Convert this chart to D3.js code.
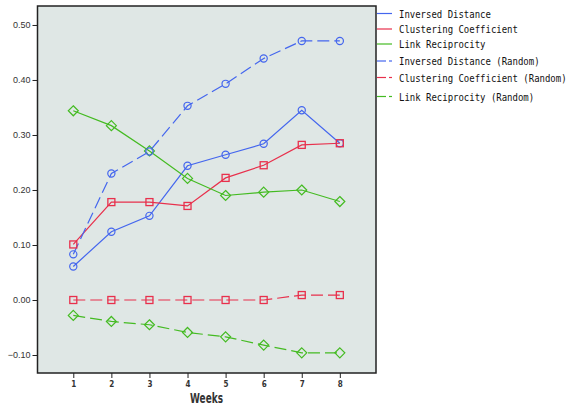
<!DOCTYPE html>
<html><head><meta charset="utf-8">
<script src="https://cdn.jsdelivr.net/npm/d3@7"></script>
<style>body{margin:0;background:#fff}svg{display:block}</style>
</head><body>
<script>
const weeks = [1,2,3,4,5,6,7,8];
const yTicks = [-0.10,0.00,0.10,0.20,0.30,0.40,0.50];
const seriesNames = ["Inversed Distance","Clustering Coefficient","Link Reciprocity","Inversed Distance (Random)","Clustering Coefficient (Random)","Link Reciprocity (Random)"];
const inversedDistance = [0.061,0.124,0.153,0.244,0.264,0.284,0.345,0.285];
const clusteringCoefficient = [0.101,0.178,0.178,0.171,0.222,0.245,0.282,0.285];
const linkReciprocity = [0.344,0.317,0.271,0.221,0.190,0.196,0.200,0.179];
const inversedDistanceRandom = [0.083,0.230,0.270,0.353,0.393,0.439,0.471,0.471];
const clusteringCoefficientRandom = [0,0,0,0,0,0,0.009,0.009];
const linkReciprocityRandom = [-0.028,-0.039,-0.045,-0.059,-0.067,-0.082,-0.096,-0.096];

const blue="#4466ee", red="#e8304c", green="#44bb22";
const series = [
 {name:seriesNames[0], v:inversedDistance, c:blue, m:"circle", dash:null},
 {name:seriesNames[1], v:clusteringCoefficient, c:red, m:"square", dash:null},
 {name:seriesNames[2], v:linkReciprocity, c:green, m:"diamond", dash:null},
 {name:seriesNames[3], v:inversedDistanceRandom, c:blue, m:"circle", dash:"12,5"},
 {name:seriesNames[4], v:clusteringCoefficientRandom, c:red, m:"square", dash:"12,5"},
 {name:seriesNames[5], v:linkReciprocityRandom, c:green, m:"diamond", dash:"12,5"},
];

const W=571,H=407;
const L=37.5,T=6,R=376,B=373;
const svg=d3.select("body").append("svg").attr("width",W).attr("height",H);
const x=d3.scaleLinear().domain([0.06,8.95]).range([L,R]);
const y=d3.scaleLinear().domain([-0.1327,0.5345]).range([B,T]);

svg.append("rect").attr("x",L).attr("y",T).attr("width",R-L).attr("height",B-T)
  .attr("fill","#dfe7e5").attr("stroke","#222").attr("stroke-width",1.5);

const yAx=svg.append("g").attr("transform",`translate(${L},0)`)
  .call(d3.axisLeft(y).tickValues(yTicks).tickFormat(d3.format(".2f")).tickSize(5).tickSizeOuter(0));
yAx.select(".domain").remove();
yAx.selectAll("line").attr("stroke","#222");
yAx.selectAll("text").attr("font-family","Liberation Sans, Arial, sans-serif").attr("font-size",9).attr("fill","#333").attr("x",-7);

const xAx=svg.append("g").attr("transform",`translate(0,${B})`)
  .call(d3.axisBottom(x).tickValues(weeks).tickFormat(d3.format("d")).tickSize(5).tickSizeOuter(0));
xAx.select(".domain").remove();
xAx.selectAll("line").attr("stroke","#222");
xAx.selectAll("text").attr("font-family","DejaVu Sans Condensed, DejaVu Sans, sans-serif").attr("font-size",8).attr("font-weight","bold").attr("fill","#333").attr("y",8);

svg.append("text").attr("x",(x(4)+x(5))/2).attr("y",403).attr("text-anchor","middle")
  .attr("font-family","DejaVu Sans Condensed, DejaVu Sans, sans-serif").attr("font-size",14).attr("font-weight","bold")
  .attr("fill","#333").attr("textLength",33).attr("lengthAdjust","spacingAndGlyphs").text("Weeks");

const line=d3.line().x((d,i)=>x(weeks[i])).y(d=>y(d));
const g=svg.append("g");
series.forEach(s=>{
  g.append("path").attr("d",line(s.v)).attr("fill","none").attr("stroke",s.c).attr("stroke-width",1.2)
   .attr("stroke-dasharray",s.dash);
});
series.forEach(s=>{
  s.v.forEach((d,i)=>{
    const cx=x(weeks[i]), cy=y(d);
    if(s.m==="circle") g.append("circle").attr("cx",cx).attr("cy",cy).attr("r",3.6).attr("fill","none").attr("stroke",s.c).attr("stroke-width",1.2);
    else if(s.m==="square") g.append("rect").attr("x",cx-3.5).attr("y",cy-3.5).attr("width",7).attr("height",7).attr("fill","none").attr("stroke",s.c).attr("stroke-width",1.3);
    else g.append("path").attr("d",`M${cx},${cy-5}L${cx+5},${cy}L${cx},${cy+5}L${cx-5},${cy}Z`).attr("fill","none").attr("stroke",s.c).attr("stroke-width",1.2);
  });
});

const ly=[13.5,29,44,61,77.5,96.5];
series.forEach((s,i)=>{
  const lg=svg.append("g");
  if(!s.dash) lg.append("line").attr("x1",377).attr("x2",392).attr("y1",ly[i]).attr("y2",ly[i]).attr("stroke",s.c).attr("stroke-width",1.2);
  else {
    lg.append("line").attr("x1",377).attr("x2",386).attr("y1",ly[i]).attr("y2",ly[i]).attr("stroke",s.c).attr("stroke-width",1.2);
    lg.append("line").attr("x1",389).attr("x2",392).attr("y1",ly[i]).attr("y2",ly[i]).attr("stroke",s.c).attr("stroke-width",1.2);
  }
  lg.append("text").attr("transform",`translate(399,${ly[i]+4}) scale(1,1.22)`)
    .attr("font-family","DejaVu Sans Mono, monospace").attr("font-size",9)
    .attr("fill","#111").text(s.name);
});
</script>
</body></html>
